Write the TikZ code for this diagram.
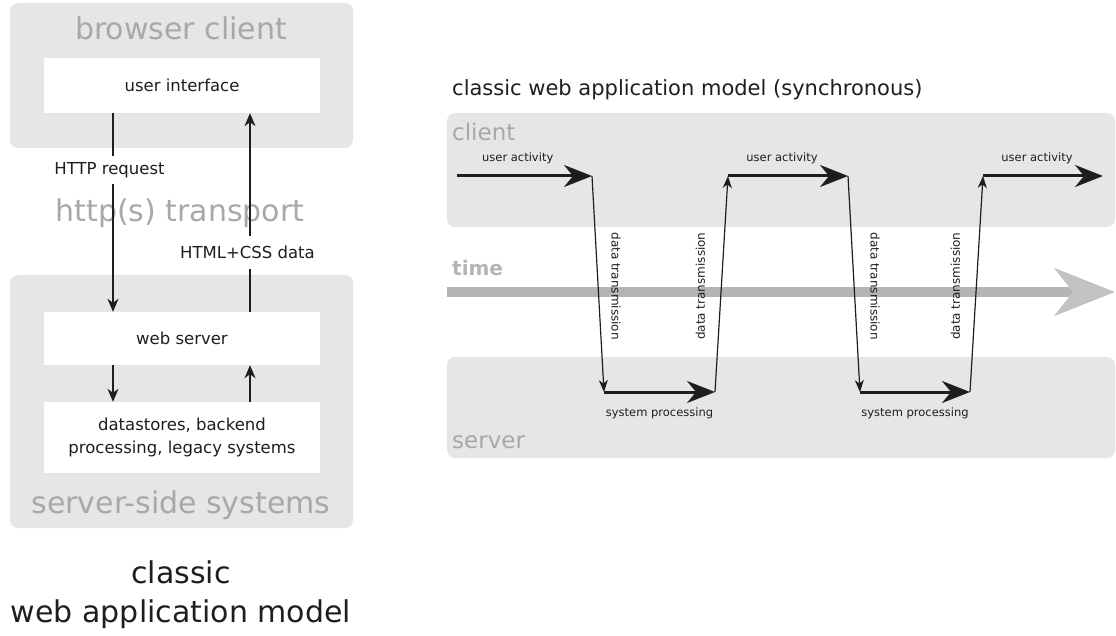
\documentclass[tikz,border=0pt]{standalone}
\usepackage{fontspec}
\setmainfont{DejaVu Sans}
\usetikzlibrary{arrows.meta}
\definecolor{panelgray}{HTML}{E6E6E6}
\definecolor{faint}{HTML}{A8A8A8}
\definecolor{timegray}{HTML}{B4B4B4}
\definecolor{timehead}{HTML}{C2C2C2}
\definecolor{ink}{HTML}{1E1E1E}
\begin{document}
\begin{tikzpicture}[x=1pt,y=-1pt,
  panel/.style={fill=panelgray, rounded corners=8pt, draw=none, inner sep=0pt},
  whitebox/.style={fill=white, draw=none, minimum width=276pt, inner sep=0pt, text=ink,
    font=\fontsize{16.5}{23}\selectfont, align=center},
  bigfaint/.style={text=faint, font=\fontsize{30}{36}\selectfont, inner sep=0pt},
  bigink/.style={text=ink, font=\fontsize{30}{36}\selectfont, inner sep=0pt},
  midfaint/.style={text=faint, font=\fontsize{23}{28}\selectfont, inner sep=0pt, anchor=west},
  lbl/.style={text=ink, font=\fontsize{16.5}{20}\selectfont, fill=white, inner xsep=2pt},
  small/.style={text=ink, font=\fontsize{11.5}{14}\selectfont, inner sep=0pt},
  vsmall/.style={text=ink, font=\fontsize{12}{14}\selectfont, inner sep=0pt},
  thinarrow/.style={draw=ink, line width=1.4pt, -{Stealth[length=13pt,width=11pt,inset=4pt]}},
  fine/.style={draw=ink, line width=1.2pt, -{Stealth[length=12pt,width=9pt,inset=3.5pt]}},
  thick/.style={draw=ink, line width=3pt, -{Stealth[length=28pt,width=22pt,inset=9pt]}}
]
\useasboundingbox (0,0) rectangle (1116,636);

% ---------- left: classic model ----------
\node[panel, minimum width=343pt, minimum height=145pt] (bc) at (181.5,75.5) {};
\node[panel, minimum width=343pt, minimum height=253pt] (ss) at (181.5,401.5) {};
\node[bigfaint] (bctitle) at (181,28) {browser client};
\node[bigfaint] (transport) at (180,213) {http(s) transport};
\node[bigfaint] (sstitle) at (181,505) {server-side systems};
\node[whitebox, minimum height=55pt] (ui) at (182,85.5) {user interface};
\node[whitebox, minimum height=53pt] (ws) at (182,338.5) {web server};
\node[whitebox, minimum height=71pt] (ds) at (182,437.5) {datastores, backend\\processing, legacy systems};
\node[bigink] (cap1) at (181,572) {classic};
\node[bigink] (cap2) at (181,614) {web application model};

\coordinate (xl) at (113,0);
\coordinate (xr) at (250,0);
\draw[thinarrow] (xl |- ui.south) -- node[lbl, pos=0.286, xshift=-3.5pt, inner ysep=6pt] {HTTP request} (xl |- ws.north);
\draw[thinarrow] (xr |- ws.north) -- node[lbl, pos=0.30, xshift=-2.5pt, inner ysep=10pt] {HTML+CSS data} (xr |- ui.south);
\draw[thinarrow] (xl |- ws.south) -- (xl |- ds.north);
\draw[thinarrow] (xr |- ds.north) -- (xr |- ws.south);

% ---------- right: synchronous timeline ----------
\node[text=ink, font=\fontsize{21}{25}\selectfont, inner sep=0pt, anchor=west] (title) at (452,90) {classic web application model (synchronous)};
\node[panel, minimum width=668pt, minimum height=114pt] (client) at (781,170) {};
\node[panel, minimum width=668pt, minimum height=101pt] (server) at (781,407.5) {};
\node[midfaint] (clientlbl) at (452,132) {client};
\node[midfaint] (serverlbl) at (452,442) {server};
\node[text=timegray, font=\bfseries\fontsize{20}{24}\selectfont, inner sep=0pt, anchor=west] (timelbl) at (452,268) {time};

\coordinate (t0) at (447,292);
\coordinate (t1) at (1115,292);
\draw[line width=10pt, draw=timegray, -{Stealth[length=60pt,width=47pt,inset=18pt,color=timehead]}] (t0) -- (t1);

\coordinate (a0) at (457,176);
\coordinate (a1) at (592,176);
\coordinate (b1) at (604,392);
\coordinate (b2) at (715,392);
\coordinate (a2) at (728,176);
\coordinate (a3) at (848,176);
\coordinate (b3) at (860,392);
\coordinate (b4) at (970,392);
\coordinate (a4) at (983,176);
\coordinate (a5) at (1103,176);

\draw[thick] (a0) -- node[small, pos=0.45, yshift=18pt] {user activity} (a1);
\draw[fine] (a1) -- coordinate[pos=0.51] (m1) (b1);
\draw[thick] (b1) -- node[small, yshift=-21pt] {system processing} (b2);
\draw[fine] (b2) -- coordinate[pos=0.49] (m2) (a2);
\draw[thick] (a2) -- node[small, pos=0.45, yshift=18pt] {user activity} (a3);
\draw[fine] (a3) -- coordinate[pos=0.51] (m3) (b3);
\draw[thick] (b3) -- node[small, yshift=-21pt] {system processing} (b4);
\draw[fine] (b4) -- coordinate[pos=0.49] (m4) (a4);
\draw[thick] (a4) -- node[small, pos=0.45, yshift=18pt] {user activity} (a5);

\node[vsmall, rotate=-90] (dt1) at ([xshift=18pt]m1) {data transmission};
\node[vsmall, rotate=90] (dt2) at ([xshift=-21pt]m2) {data transmission};
\node[vsmall, rotate=-90] (dt3) at ([xshift=21pt]m3) {data transmission};
\node[vsmall, rotate=90] (dt4) at ([xshift=-21pt]m4) {data transmission};
\end{tikzpicture}
\end{document}
